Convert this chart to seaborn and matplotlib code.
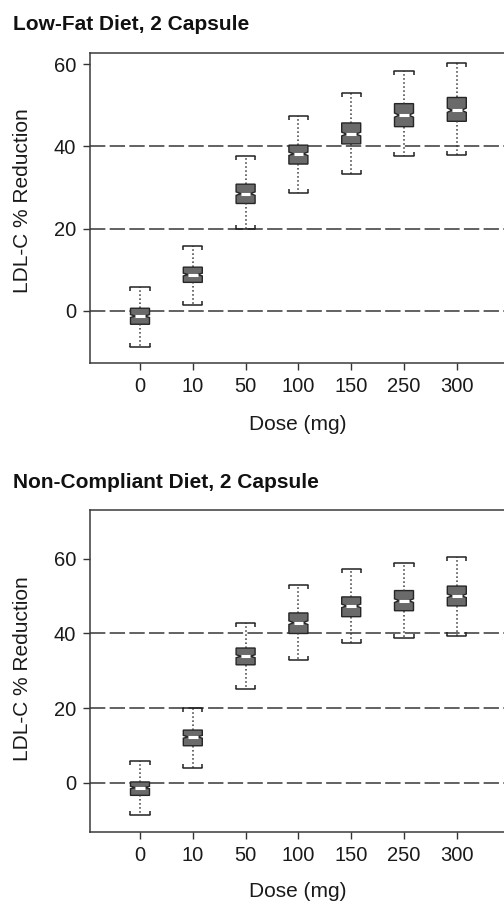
import numpy as np
import pandas as pd
import matplotlib
matplotlib.use("Agg")
import matplotlib.pyplot as plt
import seaborn as sns
from matplotlib.lines import TICKUP, TICKDOWN

# ---- data ----
doses = ["0", "10", "50", "100", "150", "250", "300"]

# Low-Fat Diet, 2 Capsule : whisker ends, quartiles, medians
lf_low = [-8.8, 1.5, 20.0, 28.7, 33.3, 37.6, 38.0]
lf_q1 = [-3.3, 6.9, 26.1, 35.7, 40.6, 44.8, 46.1]
lf_med = [-1.3, 8.8, 28.5, 38.2, 43.0, 47.6, 48.8]
lf_q3 = [0.6, 10.6, 30.8, 40.3, 45.7, 50.4, 51.9]
lf_high = [5.8, 15.8, 37.6, 47.4, 52.9, 58.4, 60.3]

# Non-Compliant Diet, 2 Capsule
nc_low = [-8.7, 4.0, 25.0, 33.0, 37.4, 38.8, 39.4]
nc_q1 = [-3.4, 9.9, 31.6, 40.0, 44.5, 46.1, 47.4]
nc_med = [-1.3, 12.3, 33.9, 42.9, 47.4, 48.8, 50.1]
nc_q3 = [0.2, 14.1, 36.1, 45.5, 49.8, 51.5, 52.7]
nc_high = [5.9, 19.9, 42.7, 53.0, 57.4, 59.0, 60.4]

y_ticks = [0, 20, 40, 60]
ref_lines = [0, 20, 40]

panels = [
    ("Low-Fat Diet, 2 Capsule", lf_low, lf_q1, lf_med, lf_q3, lf_high),
    ("Non-Compliant Diet, 2 Capsule", nc_low, nc_q1, nc_med, nc_q3, nc_high),
]


def summary_table(low, q1, med, q3, high, reps=60):
    # each five-number summary repeated so the library reproduces the same
    # quartiles and whisker ends, with a narrow notch
    rows = []
    for d, a, b, c, e, f in zip(doses, low, q1, med, q3, high):
        for _ in range(reps):
            for v in (a, b, c, e, f):
                rows.append((d, v))
    return pd.DataFrame(rows, columns=["dose", "value"])


sns.set_theme(style="ticks")
plt.rcParams["font.family"] = ["Liberation Sans", "DejaVu Sans"]

fig = plt.figure(figsize=(5.04, 9.02), dpi=100)
W, H = 504.0, 902.0

# layout in pixels
layouts = [
    dict(top=52.7, bottom=363.3, ylim=(-12.8, 62.8), title_y=25.0,
         xlab_y=425.0, ylab_y=200.8),
    dict(top=510.0, bottom=832.3, ylim=(-13.3, 73.1), title_y=482.7,
         xlab_y=891.7, ylab_y=668.3),
]
left_px = 90.0
x0_px = 140.0
step_px = 52.8
ax_w_px = 560.0

for (title, low, q1, med, q3, high), lay in zip(panels, layouts):
    ax = fig.add_axes([left_px / W, 1 - lay["bottom"] / H,
                       ax_w_px / W, (lay["bottom"] - lay["top"]) / H])
    df = summary_table(low, q1, med, q3, high)
    for yv in ref_lines:
        ax.axhline(yv, color="#555555", lw=1.3, ls=(0, (8.5, 2.4)), zorder=0.5)
    sns.boxplot(data=df, x="dose", y="value", order=doses, ax=ax,
                whis=(0, 100), width=0.36, color="#6a6a6a", saturation=1,
                linecolor="#262626", linewidth=1.0, notch=True,
                capwidths=0.36, showfliers=False,
                medianprops=dict(color="white", linewidth=2.2, gid="med"),
                whiskerprops=dict(color="#333333", linestyle=":",
                                  linewidth=1.1),
                capprops=dict(color="#222222", linewidth=1.1, gid="cap"))
    caps = [ln for ln in ax.lines if ln.get_gid() == "cap"]
    for i, ln in enumerate(caps):
        ln.set_marker(TICKUP if i % 2 == 0 else TICKDOWN)
        ln.set_markersize(3.0)
        ln.set_markeredgewidth(1.1)
        ln.set_markeredgecolor("#222222")

    x_left = -(x0_px - left_px) / step_px
    ax.set_xlim(x_left, x_left + ax_w_px / step_px)
    ax.set_ylim(*lay["ylim"])
    ax.set_yticks(y_ticks)
    ax.set_xticks(range(len(doses)))
    ax.set_xticklabels(doses)
    ax.tick_params(axis="both", labelsize=14.5, length=5, width=1.0,
                   color="#333333", labelcolor="#1a1a1a", pad=5)
    for s in ax.spines.values():
        s.set_color("#3a3a3a")
        s.set_linewidth(1.1)
    ax.set_xlabel("Dose (mg)", fontsize=15, color="#1a1a1a")
    ax.set_ylabel("LDL-C % Reduction", fontsize=15, color="#1a1a1a")
    ax.xaxis.set_label_coords(297.5 / W, 1 - lay["xlab_y"] / H,
                              transform=fig.transFigure)
    ax.xaxis.label.set_verticalalignment("center")
    ax.yaxis.set_label_coords(22.7 / W, 1 - lay["ylab_y"] / H,
                              transform=fig.transFigure)
    ax.yaxis.label.set_verticalalignment("center")
    ax.yaxis.label.set_horizontalalignment("center")
    fig.text(12.7 / W, 1 - lay["title_y"] / H, title, fontsize=15,
             fontweight="bold", ha="left", va="center", color="#111111")

fig.savefig("out.png", dpi=100)
